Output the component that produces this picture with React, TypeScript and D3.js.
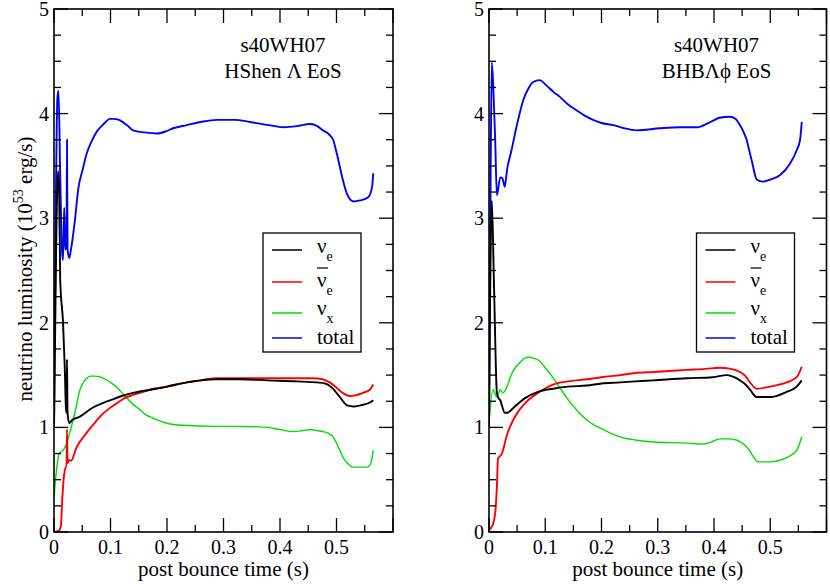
import * as d3 from "d3"

// [time (s), luminosity (1e53 erg/s)]
const shenNue = [
  [0, 1.0], [0.004, 2.8], [0.007, 3.45], [0.009, 3.3], [0.011, 2.41], [0.016, 2.0], [0.019, 1.58],
  [0.021, 1.2], [0.0222, 1.14], [0.023, 1.65], [0.024, 1.14], [0.027, 1.04], [0.032, 1.07],
  [0.045, 1.1], [0.069, 1.19], [0.085, 1.23], [0.1, 1.26], [0.12, 1.3], [0.14, 1.33], [0.17, 1.36],
  [0.2, 1.39], [0.235, 1.43], [0.26, 1.45], [0.288, 1.46], [0.33, 1.46], [0.377, 1.45], [0.43, 1.44],
  [0.465, 1.43], [0.48, 1.42], [0.492, 1.38], [0.506, 1.29], [0.519, 1.21], [0.53, 1.2], [0.542, 1.21],
  [0.56, 1.24], [0.565, 1.26],
]
const shenNuebar = [
  [0, 0.0], [0.008, 0.01], [0.012, 0.05], [0.015, 0.35], [0.018, 0.55], [0.021, 0.62], [0.0222, 0.62],
  [0.023, 0.98], [0.024, 0.66], [0.027, 0.69], [0.03, 0.68], [0.04, 0.81], [0.058, 0.95], [0.07, 1.03],
  [0.081, 1.1], [0.095, 1.17], [0.111, 1.23], [0.125, 1.28], [0.14, 1.31], [0.17, 1.36], [0.2, 1.39],
  [0.235, 1.43], [0.26, 1.45], [0.288, 1.47], [0.33, 1.47], [0.377, 1.47], [0.42, 1.47], [0.458, 1.47],
  [0.475, 1.46], [0.488, 1.43], [0.5, 1.38], [0.511, 1.33], [0.524, 1.3], [0.547, 1.33], [0.559, 1.36],
  [0.565, 1.41],
]
const shenNux = [
  [0, 0.33], [0.005, 0.62], [0.009, 0.75], [0.016, 0.78], [0.023, 0.85], [0.028, 0.95], [0.037, 1.14],
  [0.046, 1.36], [0.052, 1.43], [0.058, 1.47], [0.065, 1.49], [0.073, 1.49], [0.08, 1.485], [0.087, 1.47],
  [0.1, 1.43], [0.112, 1.38], [0.12, 1.33], [0.129, 1.28], [0.14, 1.22], [0.152, 1.17], [0.163, 1.12],
  [0.175, 1.09], [0.188, 1.06], [0.2, 1.04], [0.228, 1.02], [0.288, 1.01], [0.33, 1.01], [0.377, 1.0],
  [0.4, 0.98], [0.423, 0.96], [0.44, 0.97], [0.453, 0.98], [0.465, 0.97], [0.476, 0.96], [0.487, 0.94],
  [0.494, 0.91], [0.5, 0.85], [0.506, 0.78], [0.512, 0.71], [0.519, 0.66], [0.529, 0.62], [0.554, 0.62],
  [0.561, 0.66], [0.565, 0.78],
]
const shenTotal = [
  [0, 1.0], [0.003, 3.0], [0.006, 4.15], [0.008, 4.22], [0.011, 3.4], [0.014, 2.7], [0.016, 2.6],
  [0.018, 3.1], [0.02, 2.7], [0.0222, 2.75], [0.023, 3.75], [0.024, 2.7], [0.027, 2.62], [0.03, 2.7],
  [0.037, 2.98], [0.043, 3.28], [0.051, 3.47], [0.058, 3.62], [0.067, 3.74], [0.076, 3.83], [0.088, 3.9],
  [0.099, 3.95], [0.105, 3.95], [0.115, 3.94], [0.129, 3.89], [0.14, 3.84], [0.16, 3.82], [0.182, 3.81],
  [0.198, 3.83], [0.211, 3.86], [0.235, 3.89], [0.26, 3.92], [0.288, 3.94], [0.32, 3.94], [0.347, 3.92],
  [0.38, 3.89], [0.406, 3.87], [0.43, 3.88], [0.453, 3.9], [0.466, 3.88], [0.476, 3.84], [0.487, 3.8],
  [0.494, 3.75], [0.5, 3.63], [0.506, 3.49], [0.512, 3.35], [0.518, 3.24], [0.524, 3.18], [0.53, 3.16],
  [0.542, 3.17], [0.556, 3.2], [0.563, 3.3], [0.565, 3.43],
]

const bhbNue = [
  [0, 1.0], [0.005, 3.17], [0.009, 2.33], [0.014, 1.33], [0.016, 1.29], [0.02, 1.26], [0.028, 1.14],
  [0.032, 1.14], [0.046, 1.2], [0.064, 1.28], [0.087, 1.34], [0.114, 1.37], [0.14, 1.39], [0.174, 1.4],
  [0.2, 1.42], [0.233, 1.43], [0.26, 1.44], [0.292, 1.45], [0.352, 1.47], [0.398, 1.48], [0.423, 1.5],
  [0.436, 1.48], [0.446, 1.45], [0.456, 1.41], [0.464, 1.36], [0.476, 1.29], [0.5, 1.29], [0.529, 1.34],
  [0.547, 1.39], [0.556, 1.45],
]
const bhbNuebar = [
  [0, 0.02], [0.006, 0.06], [0.011, 0.18], [0.014, 0.43], [0.016, 0.7], [0.023, 0.75], [0.032, 0.93],
  [0.046, 1.1], [0.064, 1.23], [0.087, 1.33], [0.114, 1.41], [0.14, 1.44], [0.174, 1.46], [0.2, 1.48],
  [0.233, 1.5], [0.26, 1.52], [0.292, 1.53], [0.352, 1.55], [0.385, 1.56], [0.41, 1.57], [0.43, 1.56],
  [0.446, 1.53], [0.456, 1.49], [0.464, 1.43], [0.476, 1.37], [0.5, 1.39], [0.529, 1.43], [0.547, 1.48],
  [0.556, 1.58],
]
const bhbNux = [
  [0, 1.04], [0.007, 1.36], [0.014, 1.29], [0.02, 1.36], [0.025, 1.33], [0.032, 1.39], [0.041, 1.52],
  [0.048, 1.58], [0.055, 1.62], [0.063, 1.66], [0.071, 1.67], [0.08, 1.66], [0.089, 1.64], [0.1, 1.57],
  [0.113, 1.48], [0.126, 1.38], [0.14, 1.27], [0.157, 1.16], [0.174, 1.07], [0.188, 1.02], [0.203, 0.98],
  [0.218, 0.94], [0.233, 0.91], [0.26, 0.88], [0.292, 0.86], [0.352, 0.85], [0.38, 0.84], [0.395, 0.86],
  [0.41, 0.89], [0.425, 0.89], [0.44, 0.88], [0.455, 0.83], [0.463, 0.78], [0.47, 0.72], [0.478, 0.67],
  [0.5, 0.67], [0.529, 0.71], [0.547, 0.78], [0.556, 0.91],
]
const bhbTotal = [
  [0, 1.0], [0.003, 3.5], [0.005, 4.49], [0.008, 4.2], [0.011, 3.75], [0.014, 3.22], [0.02, 3.39],
  [0.024, 3.38], [0.028, 3.3], [0.032, 3.46], [0.04, 3.65], [0.05, 3.9], [0.061, 4.13], [0.07, 4.24],
  [0.078, 4.3], [0.09, 4.32], [0.102, 4.27], [0.114, 4.21], [0.126, 4.16], [0.14, 4.09], [0.156, 4.03],
  [0.17, 3.98], [0.185, 3.94], [0.2, 3.91], [0.221, 3.89], [0.24, 3.86], [0.263, 3.84], [0.304, 3.86],
  [0.34, 3.87], [0.37, 3.87], [0.39, 3.91], [0.41, 3.96], [0.428, 3.97], [0.438, 3.95], [0.446, 3.89],
  [0.452, 3.83], [0.458, 3.75], [0.463, 3.64], [0.468, 3.53], [0.476, 3.37], [0.487, 3.35], [0.5, 3.37],
  [0.517, 3.41], [0.535, 3.52], [0.547, 3.65], [0.553, 3.75], [0.556, 3.92],
]

const xTicks = [0, 0.1, 0.2, 0.3, 0.4, 0.5]
const yTicks = [0, 1, 2, 3, 4, 5]
const seriesColors = ["#000000", "#ff0000", "#00dd00", "#0000ff"]
const modelName = "s40WH07"
const eosNames = ["HShen \u039B EoS", "BHB\u039B\u03D5 EoS"]

const W = 830
const H = 584
const top = 9
const bottom = 532
const font = "Liberation Serif"

function Panel({ left, right, series, eos, showYLabel, id }) {
  const x = d3.scaleLinear().domain([0, 0.6]).range([left, right])
  const y = d3.scaleLinear().domain([0, 5]).range([bottom, top])
  const line = d3.line().x(d => x(d[0])).y(d => y(d[1])).curve(d3.curveMonotoneX)
  const xMinor = d3.range(0, 0.6001, 0.05)
  const yMinor = d3.range(0, 5.001, 0.25)
  const mid = (left + right) / 2
  // legend box sits near the right side of each frame
  const lx = right - 130
  const ly = 233
  const rowY = [17, 49, 80, 105]

  return (
    <g>
      <defs>
        <clipPath id={id}>
          <rect x={left} y={top} width={right - left} height={bottom - top} />
        </clipPath>
      </defs>
      <g clipPath={`url(#${id})`} fill="none">
        {[3, 2, 1, 0].map(i => (
          <path key={i} d={line(series[i])} stroke={seriesColors[i]} strokeWidth={i == 2 ? 1.4 : 1.9} strokeLinejoin="round" />
        ))}
      </g>
      {/* ticks */}
      <g stroke="#000" strokeWidth={1.3}>
        {xMinor.map((t, i) => {
          const len = i % 2 == 0 ? 14 : 7
          return (
            <g key={'x' + i}>
              <line x1={x(t)} x2={x(t)} y1={bottom} y2={bottom - len} />
              <line x1={x(t)} x2={x(t)} y1={top} y2={top + len} />
            </g>
          )
        })}
        {yMinor.map((v, i) => {
          const len = i % 4 == 0 ? 14 : 7
          return (
            <g key={'y' + i}>
              <line x1={left} x2={left + len} y1={y(v)} y2={y(v)} />
              <line x1={right} x2={right - len} y1={y(v)} y2={y(v)} />
            </g>
          )
        })}
      </g>
      <rect x={left} y={top} width={right - left} height={bottom - top} fill="none" stroke="#000" strokeWidth={1.6} />
      <g style={{ fontFamily: font }} fontSize={20}>
        {xTicks.map(t => (
          <text key={t} x={x(t)} y={bottom + 22} textAnchor="middle">{t == 0 ? "0" : t.toFixed(1)}</text>
        ))}
        {yTicks.map(v => (
          <text key={v} x={left - 5} y={y(v) + 7} textAnchor="end">{v}</text>
        ))}
      </g>
      <text x={mid} y={576} style={{ fontFamily: font }} fontSize={21} textAnchor="middle">post bounce time (s)</text>
      {showYLabel && (
        <text transform={`translate(32,269) rotate(-90)`} style={{ fontFamily: font }} fontSize={21} textAnchor="middle">
          neutrino luminosity (10<tspan dy={-9} fontSize={14}>53</tspan><tspan dy={9}> erg/s)</tspan>
        </text>
      )}
      <g style={{ fontFamily: font }} fontSize={21} textAnchor="middle">
        <text x={right - 110} y={52}>{modelName}</text>
        <text x={right - 110} y={78}>{eos}</text>
      </g>
      {/* legend */}
      <rect x={lx} y={ly} width={98} height={119} fill="#fff" stroke="#000" strokeWidth={1.3} />
      <g style={{ fontFamily: font }} fontSize={21}>
        {rowY.map((ry, i) => (
          <line key={i} x1={lx + 9} x2={lx + 39} y1={ly + ry} y2={ly + ry} stroke={seriesColors[i]} strokeWidth={1.5} />
        ))}
        <text x={lx + 54} y={ly + 20}>{"\u03BD"}<tspan dy={8} fontSize={14}>e</tspan></text>
        <line x1={lx + 54} x2={lx + 65} y1={ly + 35} y2={ly + 35} stroke="#000" strokeWidth={1.2} />
        <text x={lx + 54} y={ly + 54}>{"\u03BD"}<tspan dy={8} fontSize={14}>e</tspan></text>
        <text x={lx + 54} y={ly + 82}>{"\u03BD"}<tspan dy={8} fontSize={14}>x</tspan></text>
        <text x={lx + 54} y={ly + 111}>total</text>
      </g>
    </g>
  )
}

export default function App() {
  return (
    <svg width={W} height={H} style={{ position: "absolute", left: 0, top: 0, background: "#fff" }}>
      <rect width={W} height={H} fill="#fff" />
      <Panel id="clipA" left={54} right={393} series={[shenNue, shenNuebar, shenNux, shenTotal]} eos={eosNames[0]} showYLabel={true} />
      <Panel id="clipB" left={489} right={826.5} series={[bhbNue, bhbNuebar, bhbNux, bhbTotal]} eos={eosNames[1]} showYLabel={false} />
    </svg>
  )
}
